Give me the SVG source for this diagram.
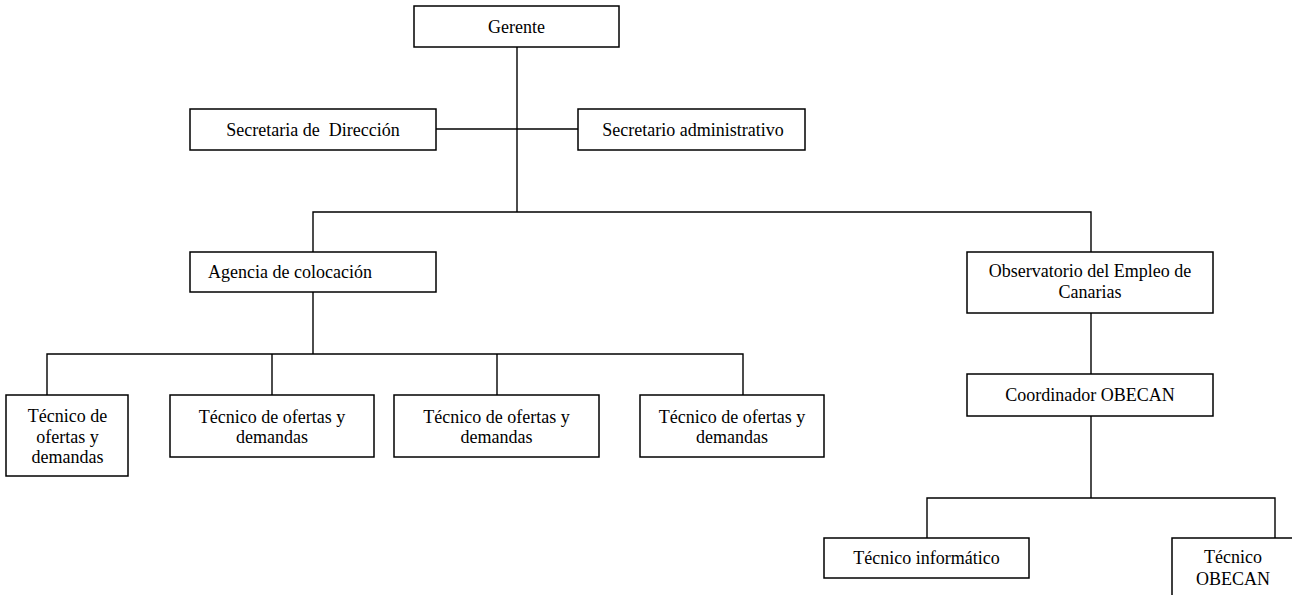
<svg xmlns="http://www.w3.org/2000/svg" width="1292" height="595" viewBox="0 0 1292 595">
<style>
.box{fill:#fff;stroke:#000;stroke-width:1.5}
.t{font-family:"Liberation Serif","Times New Roman",serif;font-size:18px;fill:#000;text-anchor:middle}
.tl{font-family:"Liberation Serif","Times New Roman",serif;font-size:18px;fill:#000}
.c{fill:none;stroke:#000;stroke-width:1.4}
</style>
<rect width="1292" height="595" fill="#fff"/>
<g id="connectors">
<path class="c" d="M517 47V212"/>
<path class="c" d="M436 129H578"/>
<path class="c" d="M313 252V212H1091V252"/>
<path class="c" d="M313 292V354"/>
<path class="c" d="M47 395V354H743V395"/>
<path class="c" d="M272 354V395"/>
<path class="c" d="M497 354V395"/>
<path class="c" d="M1091 313V374"/>
<path class="c" d="M1091 416V498"/>
<path class="c" d="M927 538V498H1275V538"/>
</g>
<g id="gerente"><rect class="box" x="414" y="6" width="205" height="41"/><text class="t" x="516.5" y="33">Gerente</text></g>
<g id="secretaria"><rect class="box" x="190" y="109" width="246" height="41"/><text class="t" x="313" y="136" xml:space="preserve">Secretaria de  Dirección</text></g>
<g id="secretario"><rect class="box" x="578" y="109" width="227" height="41"/><text class="t" x="693" y="136">Secretario administrativo</text></g>
<g id="agencia"><rect class="box" x="190" y="252" width="246" height="40"/><text class="tl" x="208" y="278">Agencia de colocación</text></g>
<g id="observatorio"><rect class="box" x="967" y="252" width="246" height="61"/><text class="t" x="1090" y="277">Observatorio del Empleo de</text><text class="t" x="1090" y="298">Canarias</text></g>
<g id="tecnico1"><rect class="box" x="6" y="395" width="122" height="81"/><text class="t" x="67.5" y="422">Técnico de</text><text class="t" x="67.5" y="443">ofertas y</text><text class="t" x="67.5" y="463">demandas</text></g>
<g id="tecnico2"><rect class="box" x="170" y="395" width="204" height="62"/><text class="t" x="272" y="423">Técnico de ofertas y</text><text class="t" x="272" y="443">demandas</text></g>
<g id="tecnico3"><rect class="box" x="394" y="395" width="205" height="62"/><text class="t" x="496.5" y="423">Técnico de ofertas y</text><text class="t" x="496.5" y="443">demandas</text></g>
<g id="tecnico4"><rect class="box" x="640" y="395" width="184" height="62"/><text class="t" x="732" y="423">Técnico de ofertas y</text><text class="t" x="732" y="443">demandas</text></g>
<g id="coordinador"><rect class="box" x="967" y="374" width="246" height="42"/><text class="t" x="1090" y="401">Coordinador OBECAN</text></g>
<g id="informatico"><rect class="box" x="824" y="538" width="205" height="40"/><text class="t" x="926.5" y="564">Técnico informático</text></g>
<g id="tecnico-obecan"><rect class="box" x="1172" y="538" width="122" height="81"/><text class="t" x="1233" y="563">Técnico</text><text class="t" x="1233" y="585">OBECAN</text></g>
</svg>
